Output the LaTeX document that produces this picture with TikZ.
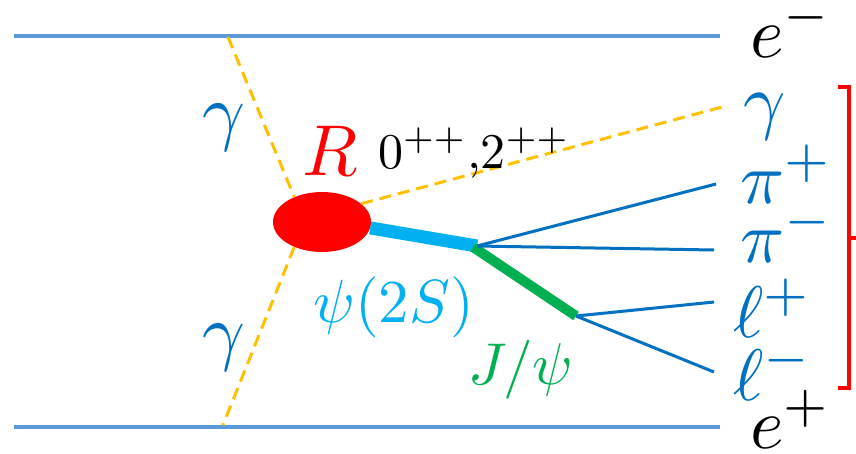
\documentclass[tikz,border=0pt]{standalone}
\usetikzlibrary{shapes.geometric,calc}
\definecolor{beamblue}{HTML}{5B9BD5}
\definecolor{photon}{HTML}{FFC000}
\definecolor{lblue}{HTML}{0070C0}
\definecolor{psicyan}{HTML}{00B0F0}
\definecolor{jgreen}{HTML}{00B050}
\definecolor{rred}{HTML}{FF0000}
\begin{document}
\begin{tikzpicture}[x=1pt,y=-1pt,
  beam/.style={draw=beamblue,line width=3.4pt},
  pho/.style={draw=photon,line width=3pt,dash pattern=on 12pt off 7pt},
  trk/.style={draw=lblue,line width=3pt},
  lbl/.style={inner sep=0pt,anchor=base west}]
\useasboundingbox (0,0) rectangle (856,453);
% beams
\coordinate (t0) at (14,36);
\coordinate (t1) at (720,36);
\coordinate (b0) at (14,427);
\coordinate (b1) at (720,427);
\draw[beam] (t0) -- (t1);
\draw[beam] (b0) -- (b1);
% resonance
\node[ellipse,fill=rred,minimum width=98pt,minimum height=60pt,inner sep=0pt] (R0) at (322,222) {};
% photons
\coordinate (pt) at (228,37);
\coordinate (pb) at (223,425);
\coordinate (pout) at (722,107);
\draw[pho] (pt) -- (R0.138);
\draw[pho] (R0.222) -- (pb);
\draw[pho] (R0.25) -- (pout);
% vertices
\coordinate (v1) at (477,246);
\coordinate (v2) at (576,316);
\draw[draw=psicyan,line width=13pt] (R0.-7) -- (v1);
\draw[draw=jgreen,line width=10pt] ($(v1)+(-4,1)$) -- (v2);
% tracks
\coordinate (ppl) at (716,184);
\coordinate (pmi) at (714,250);
\coordinate (lpl) at (714,302);
\coordinate (lmi) at (714,372);
\draw[trk] (v1) -- (ppl);
\draw[trk] (v1) -- (pmi);
\draw[trk] (v2) -- (lpl);
\draw[trk] (v2) -- (lmi);
% labels
\node[lbl,text=lblue] (gtop) at (202,136) {\scalebox{7.5}{$\gamma$}};
\node[lbl,text=lblue] (gbot) at (202,356) {\scalebox{7.5}{$\gamma$}};
\node[lbl,text=rred] (Rl) at (302,175) {\scalebox{7.2}{$R$}};
\node[lbl] (jpc) at (378,168) {\scalebox{5}{$0^{++}{,}2^{++}$}};
\node[lbl,text=lblue] (gout) at (743,125) {\scalebox{7.4}{$\gamma$}};
\node[lbl,text=lblue] (lpip) at (740,203) {\scalebox{7.3}{$\pi^+$}};
\node[lbl,text=lblue] (lpim) at (740,262) {\scalebox{7.3}{$\pi^-$}};
\node[lbl,text=lblue] (llp) at (733,337) {\scalebox{7.3}{$\ell^+$}};
\node[lbl,text=lblue] (llm) at (733,400) {\scalebox{7.3}{$\ell^-$}};
\node[lbl] (em) at (750,57) {\scalebox{7.2}{$e^-$}};
\node[lbl] (ep) at (750,448) {\scalebox{7.2}{$e^+$}};
\node[lbl,text=psicyan] (psi) at (313,322) {\scalebox{6.1}{$\psi(2S)$}};
\node[lbl,text=jgreen] (jpsi) at (468,384) {\scalebox{5.9}{$J/\psi$}};
% bracket
\coordinate (k0) at (838,87);
\coordinate (k1) at (849,87);
\coordinate (k2) at (849,388);
\coordinate (k3) at (838,388);
\coordinate (km) at (849,238);
\coordinate (kt) at (858,238);
\draw[rred,line width=3.5pt] (k0) -- (k1) -- (k2) -- (k3);
\draw[rred,line width=3.5pt] (km) -- (kt);
\end{tikzpicture}
\end{document}
